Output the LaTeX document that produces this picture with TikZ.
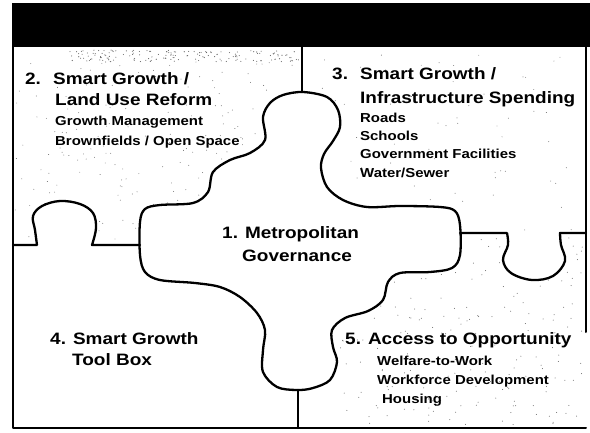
\documentclass[tikz,border=0pt]{standalone}
\usepackage{fontspec}
\setmainfont{Liberation Sans}[FakeStretch=1.15]
\begin{document}
\begin{tikzpicture}[x=1pt,y=-1pt,
  edge/.style={line width=2.3pt,line join=round,line cap=round},
  head/.style={font=\bfseries\fontsize{16.5}{18}\selectfont,anchor=base west,inner sep=0pt},
  item/.style={font=\bfseries\fontsize{13}{15}\selectfont,anchor=base west,inner sep=0pt},
  speck/.style={fill=black!60}]
\path[use as bounding box,fill=white] (0,0) rectangle (590,432);
\fill[black] (12,3) rectangle (590,47);
% scanner stipple
\pgfmathsetseed{7}
\foreach \k in {1,...,160} {\fill[speck] ({70+230*rnd},{50+12*rnd}) circle (0.55);}
\foreach \k in {1,...,220} {\fill[speck] ({15+285*rnd},{62+180*rnd}) circle (0.45);}
\foreach \k in {1,...,70} {\fill[speck] ({305+280*rnd},{50+180*rnd}) circle (0.45);}
\foreach \k in {1,...,230} {\fill[speck] ({340+245*rnd},{236+190*rnd}) circle (0.5);}
% knob of piece 4 kept clean
\fill[white] plot[smooth,tension=0.6] coordinates {
 (37,245) (35,230) (33,216) (42,206) (60,201) (80,204) (93,213) (96,228) (92,245)} -- cycle;
\fill[white] (13,245) rectangle (300,428);
\fill[white] plot[smooth,tension=0.6] coordinates {
 (507,233) (508,245) (503,260) (511,273) (532,280) (553,276) (565,261) (561,245) (560,233)} -- cycle;
% frame
\draw[edge,line width=2pt] (586,332) -- (586,47);
\draw[edge,line width=2pt] (13,47) -- (13,428) -- (586,428);
% central piece
\filldraw[edge,fill=white] plot[smooth cycle,tension=0.55] coordinates {
 (303,92) (327,97) (338,110) (340,127) (333,141) (324,154) (321,168) (327,187) (343,200) (367,207)
 (400,206) (440,207) (455,211) (460,225) (460,255) (452,268) (430,272) (400,273) (388,282)
 (383,300) (368,311) (345,318) (332,330) (333,347) (337,362) (330,380) (313,388) (297,390)
 (277,387) (263,372) (263,350) (265,330) (257,313) (240,297) (220,287) (195,283) (160,280)
 (145,272) (140,255) (140,222) (145,209) (160,205) (193,203) (208,192) (213,172) (230,160)
 (250,153) (265,140) (263,117) (270,103) (283,95)};
\coordinate (ptop) at (302,92);
\coordinate (pbot) at (298,390);
\coordinate (ftop) at (302,47);
\coordinate (fbot) at (298,428);
\draw[edge] (ftop) -- (ptop);
\draw[edge] (pbot) -- (fbot);
% left divider with knob
\draw[edge] (13,245) -- (37,245) plot[smooth,tension=0.6] coordinates {
 (37,245) (35,230) (33,216) (42,206) (60,201) (80,204) (93,213) (96,228) (92,245)} -- (140,245);
% right divider with knob
\draw[edge] (460,233) -- (507,233) plot[smooth,tension=0.6] coordinates {
 (507,233) (508,245) (503,260) (511,273) (532,280) (553,276) (565,261) (561,245) (560,233)} -- (586,233);
% piece 2
\node[head] (n2) at (25,84) {2.};
\node[head] (h2a) at (53,84) {Smart Growth /};
\node[head] (h2b) at (55,105) {Land Use Reform};
\node[item] (i2a) at (55,125) {Growth Management};
\node[item] (i2b) at (55,145) {Brownfields / Open Space};
% piece 3
\node[head] (n3) at (332,79) {3.};
\node[head] (h3a) at (360,79) {Smart Growth /};
\node[head] (h3b) at (360,103) {Infrastructure Spending};
\node[item] (i3a) at (360,122) {Roads};
\node[item] (i3b) at (360,140) {Schools};
\node[item] (i3c) at (360,158) {Government Facilities};
\node[item] (i3d) at (360,177) {Water/Sewer};
% piece 1
\node[head] (h1a) at (222,238) {1. Metropolitan};
\node[head] (h1b) at (242,261) {Governance};
% piece 4
\node[head] (h4a) at (50,344) {4. Smart Growth};
\node[head] (h4b) at (72,365) {Tool Box};
% piece 5
\node[head] (h5) at (345,344) {5. Access to Opportunity};
\node[item] (i5a) at (377,365) {Welfare-to-Work};
\node[item] (i5b) at (377,384) {Workforce Development};
\node[item] (i5c) at (382,403) {Housing};
\end{tikzpicture}
\end{document}
